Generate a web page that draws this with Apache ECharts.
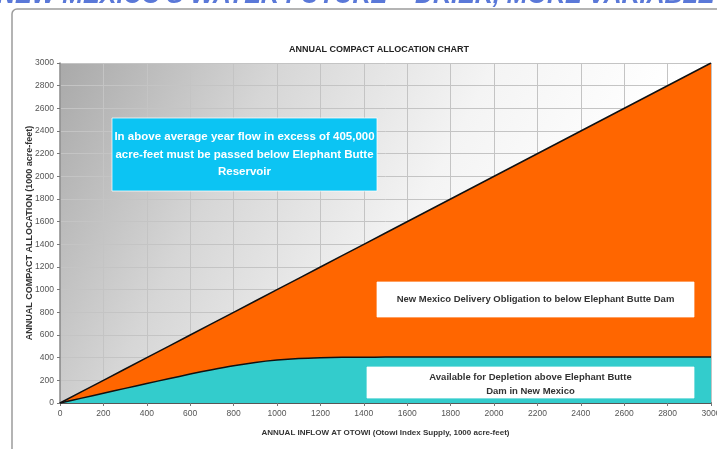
<!DOCTYPE html>
<html>
<head>
<meta charset="utf-8">
<script src="https://cdn.jsdelivr.net/npm/echarts@6/dist/echarts.min.js"></script>
<style>
  html, body { margin: 0; padding: 0; background: #fff; }
  #chart { width: 717px; height: 449px; }
</style>
</head>
<body>
<div id="chart"></div>
<script>
// Otowi index supply (1000 acre-feet), schedule break points
const inflow = [0, 100, 200, 300, 400, 500, 600, 700, 800, 900, 1000, 1100, 1200, 1300, 1400, 1500, 3000];
// Total annual compact allocation equals the Otowi index supply
const allocation = [0, 100, 200, 300, 400, 500, 600, 700, 800, 900, 1000, 1100, 1200, 1300, 1400, 1500, 3000];
// Depletion available above Elephant Butte in New Mexico
const depletion = [0, 43, 86, 129, 172, 214, 255, 294, 329, 358, 379, 393, 400, 403, 404, 405, 405];

// Axis ranges / tick steps
const xMin = 0, xMax = 3000, xStep = 200;
const yMin = 0, yMax = 3000, yStep = 200;

const headerText = "NEW MEXICO'S WATER FUTURE \u2013 DRIER, MORE VARIABLE";
const chartTitle = 'ANNUAL COMPACT ALLOCATION CHART';
const xName = 'ANNUAL INFLOW AT OTOWI (Otowi Index Supply, 1000 acre-feet)';
const yName = 'ANNUAL COMPACT ALLOCATION (1000 acre-feet)';
const noteAbove = 'In above average year flow in excess of 405,000\nacre-feet must be passed below Elephant Butte\nReservoir';
const noteDelivery = 'New Mexico Delivery Obligation to below Elephant Butte Dam';
const noteDepletion = 'Available for Depletion above Elephant Butte\nDam in New Mexico';

const FONT = "'Liberation Sans', Arial, sans-serif";

const chart = echarts.init(document.getElementById('chart'), null, { renderer: 'canvas' });

const pairs = (xs, ys) => xs.map((x, i) => [x, ys[i]]);

// annotation box: filled rectangle with centred bold text
function noteBox(x, y, w, h, fill, text, textColor, fontSize, lineHeight, dy) {
  return {
    type: 'group', x: x, y: y,
    children: [
      { type: 'rect', z: 50, shape: { x: 0, y: 0, width: w, height: h },
        style: { fill: fill, stroke: 'rgba(255,255,255,0.75)', lineWidth: 1 } },
      { type: 'text', z: 51, style: { text: text, x: w / 2, y: h / 2 + (dy || 0), align: 'center', verticalAlign: 'middle',
        fill: textColor, font: 'bold ' + fontSize + 'px ' + FONT, lineHeight: lineHeight } }
    ]
  };
}

chart.setOption({
  animation: false,
  backgroundColor: '#ffffff',
  grid: {
    left: 60, right: 6, top: 63, bottom: 46,
    containLabel: false,
    outerBoundsMode: 'none',
    show: true,
    borderWidth: 0,
    backgroundColor: {
      type: 'linear', x: 0, y: 0, x2: 0.75, y2: 0.75,
      colorStops: [
        { offset: 0, color: '#a9a9a9' },
        { offset: 0.35, color: '#d6d6d6' },
        { offset: 0.7, color: '#f4f4f4' },
        { offset: 1, color: '#ffffff' }
      ]
    }
  },
  title: {
    text: chartTitle,
    left: 374, top: 40, textAlign: 'center',
    textStyle: { fontFamily: FONT, fontSize: 9, fontWeight: 'bold', color: '#222' }
  },
  xAxis: {
    type: 'value', min: xMin, max: xMax, interval: xStep,
    name: xName, nameLocation: 'middle', nameGap: 26, nameMoveOverlap: false,
    nameTextStyle: { fontFamily: FONT, fontSize: 8, fontWeight: 'bold', color: '#333' },
    axisLine: { show: true, lineStyle: { color: '#333', width: 1.5 } },
    axisTick: { show: true, length: 3, lineStyle: { color: '#777' } },
    axisLabel: { fontFamily: FONT, fontSize: 8.5, color: '#555', margin: 6, formatter: v => String(v) },
    splitLine: { show: true, lineStyle: { color: '#c4c4c4', width: 1 } }
  },
  yAxis: {
    type: 'value', min: yMin, max: yMax, interval: yStep,
    name: yName, nameLocation: 'middle', nameGap: 26, nameRotate: 90, nameMoveOverlap: false,
    nameTextStyle: { fontFamily: FONT, fontSize: 9, fontWeight: 'bold', color: '#333' },
    axisLine: { show: true, lineStyle: { color: '#888', width: 1.5 } },
    axisTick: { show: true, length: 3, lineStyle: { color: '#777' } },
    axisLabel: { fontFamily: FONT, fontSize: 8.5, color: '#555', margin: 6, formatter: v => String(v) },
    splitLine: { show: true, lineStyle: { color: '#c4c4c4', width: 1 } }
  },
  series: [
    {
      name: 'Delivery obligation',
      type: 'line',
      data: pairs(inflow, allocation),
      showSymbol: false,
      lineStyle: { color: '#111', width: 1.5 },
      areaStyle: { color: '#ff6600', opacity: 1 },
      z: 3
    },
    {
      name: 'Depletion',
      type: 'line',
      data: pairs(inflow, depletion),
      showSymbol: false,
      smooth: 0.3,
      lineStyle: { color: '#111', width: 1.5 },
      areaStyle: { color: '#33cccc', opacity: 1 },
      z: 4
    }
  ],
  graphic: [
    // outer frame
    { type: 'rect', x: 12, y: 9, z: -10, silent: true,
      shape: { x: 0, y: 0, width: 760, height: 500, r: 5 },
      style: { fill: 'none', stroke: '#9c9c9c', lineWidth: 1.5 } },
    // page header, mostly above the visible area
    { type: 'text', x: -3, y: 9, z: 20,
      style: { text: headerText, font: 'italic bold 25px ' + FONT, fill: '#5a78d8', verticalAlign: 'bottom' } },
    noteBox(112, 118, 265, 73, '#0cc4f3', noteAbove, '#ffffff', 11.5, 17.5),
    noteBox(377, 282, 317, 35, '#ffffff', noteDelivery, '#333333', 9.5, 14),
    noteBox(367, 367, 327, 31, '#ffffff', noteDepletion, '#333333', 9.5, 14, 1.5)
  ]
});
</script>
</body>
</html>
